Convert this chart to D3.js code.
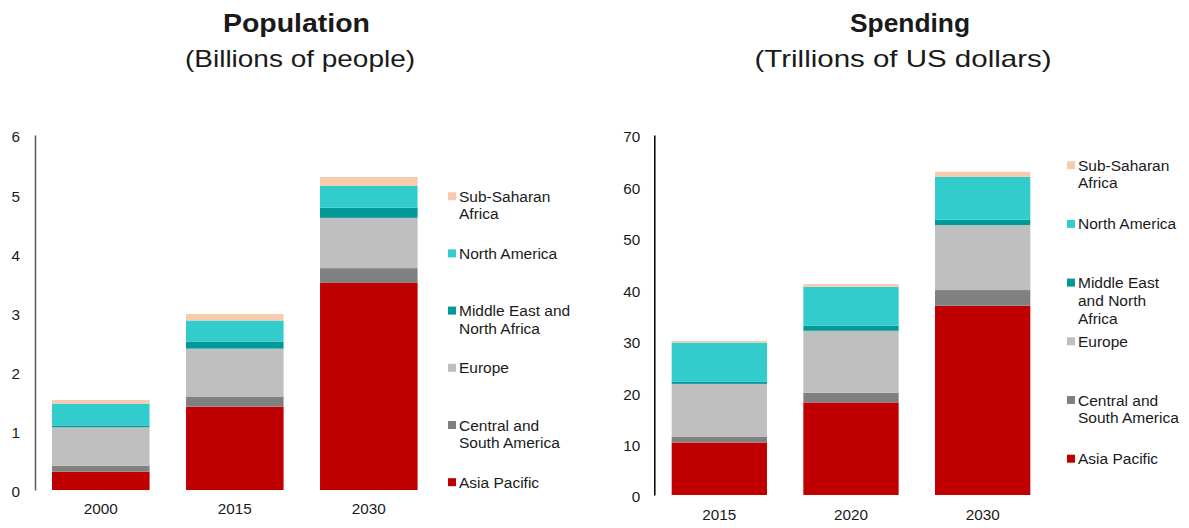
<!DOCTYPE html>
<html>
<head>
<meta charset="utf-8">
<script src="https://cdn.jsdelivr.net/npm/d3@7"></script>
<style>
  html, body { margin: 0; padding: 0; background: #fff; }
  svg text { font-family: "Liberation Sans", Arial, sans-serif; fill: #1a1a1a; }
</style>
</head>
<body>
<svg id="chart" width="1189" height="528"></svg>
<script>
// ---- Data ----
const regions = ["Asia Pacific", "Central and South America", "Europe",
                 "Middle East and North Africa", "North America", "Sub-Saharan Africa"];
const regionColors = ["#C00000", "#808080", "#BFBFBF", "#009999", "#33CCCC", "#F8CBAD"];

const popYears = ["2000", "2015", "2030"];
const popAsiaPacific   = [0.31, 1.41, 3.50];
const popCentralSouth  = [0.10, 0.17, 0.25];
const popEurope        = [0.65, 0.81, 0.85];
const popMENA          = [0.03, 0.12, 0.17];
const popNorthAmerica  = [0.37, 0.355, 0.37];
const popSubSaharan    = [0.06, 0.11, 0.15];
const popTicks = [0, 1, 2, 3, 4, 5, 6];

const spendYears = ["2015", "2020", "2030"];
const spendAsiaPacific  = [10.2, 18.0, 36.8];
const spendCentralSouth = [1.17, 1.87, 3.05];
const spendEurope       = [10.24, 12.06, 12.64];
const spendMENA         = [0.45, 0.97, 1.03];
const spendNorthAmerica = [7.58, 7.58, 8.36];
const spendSubSaharan   = [0.33, 0.53, 0.97];
const spendTicks = [0, 10, 20, 30, 40, 50, 60, 70];

// ---- Build tables ----
function buildTable(years, series) {
  return years.map((y, i) => {
    const row = { year: y };
    regions.forEach((r, k) => row[r] = series[k][i]);
    return row;
  });
}
const popTable = buildTable(popYears, [popAsiaPacific, popCentralSouth, popEurope, popMENA, popNorthAmerica, popSubSaharan]);
const spendTable = buildTable(spendYears, [spendAsiaPacific, spendCentralSouth, spendEurope, spendMENA, spendNorthAmerica, spendSubSaharan]);

const svg = d3.select("#chart");
svg.append("rect").attr("width", 1189).attr("height", 528).attr("fill", "#fff");

const color = d3.scaleOrdinal().domain(regions).range(regionColors);
const FONT = '"Liberation Sans", Arial, sans-serif';

function drawPanel(cfg) {
  const g = svg.append("g");
  const x = d3.scaleBand().domain(cfg.years).range(cfg.xRange)
    .paddingInner(cfg.padInner).paddingOuter(cfg.padOuter);
  const y = d3.scaleLinear().domain([0, cfg.yMax]).range(cfg.yRange);

  const stack = d3.stack().keys(regions)(cfg.table);
  g.selectAll("g.series").data(stack).join("g")
    .attr("fill", d => color(d.key))
    .selectAll("rect").data(d => d).join("rect")
    .attr("x", d => x(d.data.year))
    .attr("width", x.bandwidth())
    .attr("y", d => y(d[1]))
    .attr("height", d => y(d[0]) - y(d[1]));

  // y axis
  const yAxis = d3.axisLeft(y).tickValues(cfg.ticks).tickFormat(d3.format("d"))
    .tickSize(0).tickPadding(cfg.tickPad);
  const ya = g.append("g").attr("transform", `translate(${cfg.xRange[0]},0)`).call(yAxis);
  ya.select(".domain").attr("stroke", cfg.axisColor).attr("stroke-width", 1.5);
  ya.selectAll("text").attr("font-size", 15.3).attr("dy", "0.45em")
    .style("font-family", FONT).attr("fill", "#1a1a1a");

  // x axis labels
  const xAxis = d3.axisBottom(x).tickSize(0).tickPadding(cfg.xLabelPad);
  const xa = g.append("g").attr("transform", `translate(0,${cfg.yRange[0]})`).call(xAxis);
  xa.select(".domain").remove();
  xa.selectAll("text").attr("font-size", 15.3).attr("dy", "0")
    .style("font-family", FONT).attr("fill", "#1a1a1a");

  // titles
  g.append("text").attr("x", cfg.titleX).attr("y", 32).attr("text-anchor", "middle")
    .attr("font-size", 26).attr("font-weight", "bold").attr("fill", "#000")
    .attr("textLength", cfg.titleLen).attr("lengthAdjust", "spacingAndGlyphs")
    .text(cfg.title);
  g.append("text").attr("x", cfg.subX).attr("y", 67).attr("text-anchor", "middle")
    .attr("font-size", 24).attr("fill", "#000")
    .attr("textLength", cfg.subLen).attr("lengthAdjust", "spacingAndGlyphs")
    .text(cfg.subtitle);

  // legend (reverse order)
  const legendItems = regions.slice().reverse();
  const lg = g.append("g");
  legendItems.forEach((name, i) => {
    const by = cfg.legendY0 + i * cfg.legendStep;
    lg.append("rect").attr("x", cfg.legendX).attr("y", by - 9.5)
      .attr("width", 8).attr("height", 8).attr("fill", color(name));
    const t = lg.append("text").attr("x", cfg.legendX + 11).attr("y", by)
      .attr("font-size", 15.5);
    const words = name.split(" ");
    let line = [];
    let tspan = t.append("tspan").attr("x", cfg.legendX + 11).attr("dy", 0);
    words.forEach(w => {
      line.push(w);
      tspan.text(line.join(" "));
      if (tspan.node().getComputedTextLength() > cfg.wrap && line.length > 1) {
        line.pop();
        tspan.text(line.join(" "));
        line = [w];
        tspan = t.append("tspan").attr("x", cfg.legendX + 11).attr("dy", cfg.lineH).text(w);
      }
    });
  });
}

drawPanel({
  table: popTable, years: popYears, yMax: 6, ticks: popTicks,
  xRange: [35, 434.6], padInner: 0.272, padOuter: 0.127, yRange: [490, 135],
  tickPad: 15, xLabelPad: 24, axisColor: "#595959",
  title: "Population", subtitle: "(Billions of people)",
  titleX: 296.5, titleLen: 147, subX: 300, subLen: 230,
  legendX: 448, legendY0: 201.7, legendStep: 57.2, wrap: 118, lineH: 17.7
});

drawPanel({
  table: spendTable, years: spendYears, yMax: 70, ticks: spendTicks,
  xRange: [654.3, 1047.7], padInner: 0.276, padOuter: 0.132, yRange: [495, 135],
  tickPad: 14, xLabelPad: 25, axisColor: "#000",
  title: "Spending", subtitle: "(Trillions of US dollars)",
  titleX: 910, titleLen: 120, subX: 903, subLen: 297,
  legendX: 1067, legendY0: 170.7, legendStep: 58.7, wrap: 106, lineH: 17.7
});
</script>
</body>
</html>
